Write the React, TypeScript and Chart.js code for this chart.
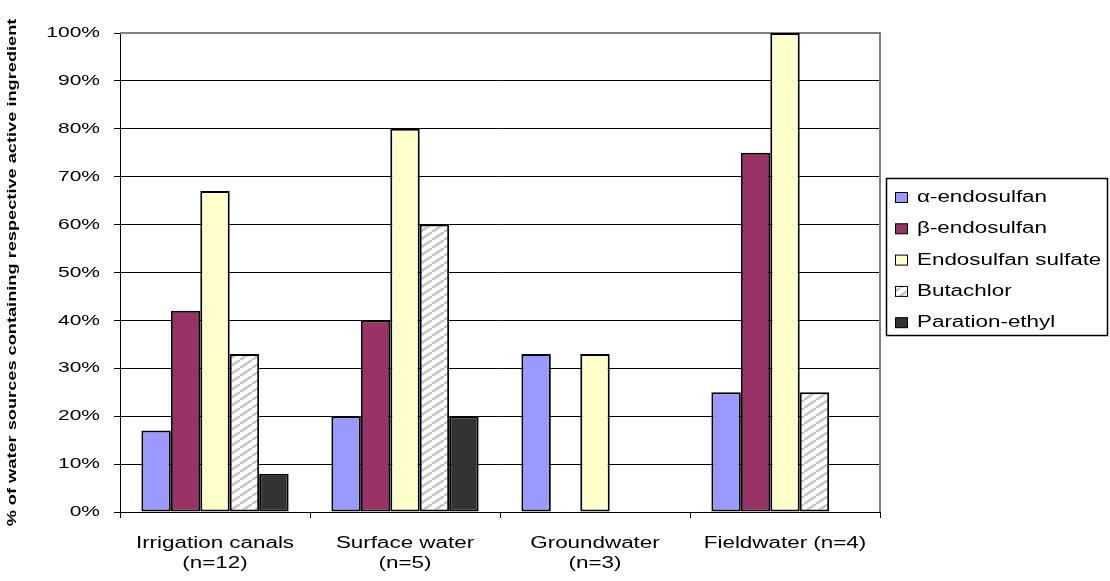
import React, { useEffect, useRef } from "react";
import { Chart, registerables } from "chart.js";

Chart.register(...registerables);

const categories: (string | string[])[] = [
  ["Irrigation canals", "(n=12)"],
  ["Surface water", "(n=5)"],
  ["Groundwater", "(n=3)"],
  "Fieldwater (n=4)",
];

const seriesNames = [
  "α-endosulfan",
  "β-endosulfan",
  "Endosulfan sulfate",
  "Butachlor",
  "Paration-ethyl",
];

const alphaEndosulfan = [17, 20, 33, 25];
const betaEndosulfan = [42, 40, null, 75];
const endosulfanSulfate = [67, 80, 33, 100];
const butachlor = [33, 60, null, 25];
const parationEthyl = [8, 20, null, null];

const yTickValues = [0, 10, 20, 30, 40, 50, 60, 70, 80, 90, 100];
const yTitle = "% of water sources containing respective active ingredient";

const TEXT_STRETCH = 1.4;
const FONT = "'Liberation Sans', Arial, sans-serif";

function makeHatch(ctx: CanvasRenderingContext2D): CanvasPattern | string {
  const p = document.createElement("canvas");
  const w = 12;
  const h = 8;
  p.width = w;
  p.height = h;
  const c = p.getContext("2d");
  if (!c) return "#ddd";
  c.fillStyle = "#ffffff";
  c.fillRect(0, 0, w, h);
  c.strokeStyle = "#c4c4c4";
  c.lineWidth = 2.6;
  c.beginPath();
  c.moveTo(0, h);
  c.lineTo(w, 0);
  c.moveTo(-w, h);
  c.lineTo(0, 0);
  c.moveTo(w, h);
  c.lineTo(2 * w, 0);
  c.stroke();
  return ctx.createPattern(p, "repeat") || "#ddd";
}

export default function App() {
  const ref = useRef<HTMLCanvasElement | null>(null);

  useEffect(() => {
    document.body.style.margin = "0";
    const canvas = ref.current;
    if (!canvas) return;
    const ctx = canvas.getContext("2d") as CanvasRenderingContext2D;
    const origFill = ctx.fillText;
    (ctx as any).fillText = function (text: string, x: number, y: number) {
      this.save();
      this.translate(x, y);
      this.scale(TEXT_STRETCH, 1);
      origFill.call(this, text, 0, 0);
      this.restore();
    };

    Chart.defaults.font.family = FONT;
    const hatch = makeHatch(ctx);

    const fills = ["#9999FF", "#993366", "#FFFFCC", hatch, "#333333"];
    const values = [alphaEndosulfan, betaEndosulfan, endosulfanSulfate, butachlor, parationEthyl];

    const framePlugin = {
      id: "frame",
      beforeDatasetsDraw(chart: any) {
        const { ctx: c, chartArea } = chart;
        c.save();
        c.strokeStyle = "#808080";
        c.lineWidth = 2;
        c.beginPath();
        c.moveTo(chartArea.left, chartArea.top);
        c.lineTo(chartArea.right, chartArea.top);
        c.lineTo(chartArea.right, chartArea.bottom);
        c.stroke();
        c.restore();
      },
      afterDraw(chart: any) {
        const c = chart.ctx as CanvasRenderingContext2D;
        const left = chart.chartArea.right + 6.5;
        const top = 178.5;
        const width = 221;
        const height = 157;
        c.save();
        c.fillStyle = "#fff";
        c.fillRect(left, top, width, height);
        c.strokeStyle = "#000";
        c.lineWidth = 1.5;
        c.strokeRect(left, top, width, height);
        chart.data.datasets.forEach((ds: any, i: number) => {
          const cy = top + 19 + i * 31.3;
          c.fillStyle = ds.backgroundColor;
          c.fillRect(left + 9, cy - 5, 12, 10);
          c.lineWidth = 1;
          c.strokeStyle = "#000";
          c.strokeRect(left + 9, cy - 5, 12, 10);
          c.fillStyle = "#000";
          c.font = `16px ${FONT}`;
          c.textAlign = "left";
          c.textBaseline = "middle";
          c.fillText(ds.label, left + 30.5, cy);
        });
        c.restore();
      },
    };

    const chart = new Chart(canvas, {
      type: "bar",
      data: {
        labels: categories,
        datasets: seriesNames.map((name, i) => ({
          label: name,
          data: values[i],
          backgroundColor: fills[i] as any,
          borderColor: "#000",
          borderWidth: 2,
          borderSkipped: false,
          categoryPercentage: 0.775,
          barPercentage: 1,
        })),
      },
      options: {
        responsive: false,
        animation: false,
        devicePixelRatio: 1,
        layout: { padding: { top: 33, right: 230, bottom: 0, left: 0 } },
        plugins: {
          legend: { display: false },
          tooltip: { enabled: false },
        },
        scales: {
          x: {
            grid: {
              drawOnChartArea: false,
              drawTicks: true,
              tickLength: 6,
              color: "#000",
              offset: true,
            },
            border: { color: "#000", width: 1 },
            ticks: {
              color: "#000",
              font: { size: 16, lineHeight: 1.25 },
              padding: 16,
              maxRotation: 0,
              minRotation: 0,
              autoSkip: false,
            },
            afterFit: (s: any) => {
              s.height = 69;
            },
          },
          y: {
            min: 0,
            max: 100,
            afterBuildTicks: (s: any) => {
              s.ticks = yTickValues.map((v) => ({ value: v }));
            },
            ticks: {
              callback: (v: any) => `${v}%`,
              color: "#000",
              font: { size: 15 },
              padding: 14,
            },
            grid: {
              color: (c: any) => (c.tick && c.tick.value === 100 ? "#808080" : "#000"),
              tickColor: "#000",
              tickLength: 6,
              lineWidth: 1,
            },
            border: { color: "#000", width: 1 },
            title: {
              display: true,
              text: yTitle,
              color: "#000",
              font: { size: 13, weight: "bold" },
              padding: { top: 5, bottom: 0 },
            },
            afterFit: (s: any) => {
              s.width = 120;
            },
          },
        },
      },
      plugins: [framePlugin],
    });

    return () => {
      chart.destroy();
      (ctx as any).fillText = origFill;
    };
  }, []);

  return <canvas ref={ref} width={1110} height={581} style={{ display: "block" }} />;
}
